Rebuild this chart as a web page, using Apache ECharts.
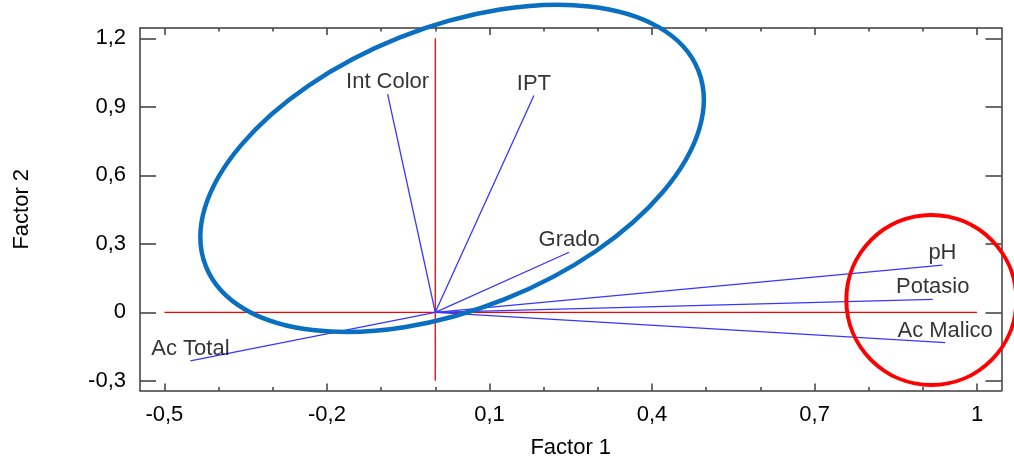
<!DOCTYPE html>
<html>
<head>
<meta charset="utf-8">
<script src="https://cdn.jsdelivr.net/npm/echarts@6/dist/echarts.min.js"></script>
<style>
  html, body { margin: 0; padding: 0; background: #fff; }
  #chart { width: 1014px; height: 459px; }
</style>
</head>
<body>
<div id="chart"></div>
<script>
  // pesos de cada variable en Factor 1 / Factor 2
  const varNames = ["Int Color", "IPT", "Grado", "Ac Total", "pH", "Potasio", "Ac Malico"];
  const factor1 = [-0.088, 0.182, 0.247, -0.452, 0.936, 0.918, 0.941];
  const factor2 = [0.955, 0.949, 0.263, -0.213, 0.207, 0.057, -0.133];

  // ejes y marcas
  const xRange = [-0.545, 1.045];
  const yRange = [-0.3425, 1.245];
  const xTicks = [-0.5, -0.2, 0.1, 0.4, 0.7, 1.0];
  const xMinorTicks = [-0.4, -0.3, -0.1, 0, 0.2, 0.3, 0.5, 0.6, 0.8, 0.9];
  const yTicks = [-0.3, 0, 0.3, 0.6, 0.9, 1.2];

  // lineas rojas de referencia
  const refH = [[-0.5, 0], [1.0, 0]];
  const refV = [[0, -0.3], [0, 1.2]];

  // anotaciones (centro en unidades de los factores)
  const blueEllipseCenter = [0.031, 0.630];
  const redCircleCenter = [0.9155, 0.054];

  const FONT = "Liberation Sans, Arial, sans-serif";
  const fmt = v => String(v).replace(".", ",");

  const myChart = echarts.init(document.getElementById("chart"));

  const frameLine = {show: true, lineStyle: {color: "#3c3c3c", width: 1.5}};
  const tickStyle = {color: "#3c3c3c", width: 1.5};

  const vectorSeries = varNames.map((name, i) => ({
    name: name,
    type: "line",
    symbol: "none",
    lineStyle: {color: "#3636ff", width: 1.3},
    data: [[0, 0], [factor1[i], factor2[i]]],
    z: 3
  }));

  function ellipseItem(rx, ry, rot, color, width) {
    return function (params, api) {
      const p = api.coord([api.value(0), api.value(1)]);
      return {
        type: "ellipse",
        x: p[0],
        y: p[1],
        rotation: rot * Math.PI / 180,
        shape: {cx: 0, cy: 0, rx: rx, ry: ry},
        style: {fill: "none", stroke: color, lineWidth: width}
      };
    };
  }

  myChart.setOption({
    animation: false,
    textStyle: {fontFamily: FONT},
    grid: {left: 140, top: 28, right: 12.5, bottom: 68.5, outerBoundsMode: "none"},
    xAxis: [
      {
        type: "value", position: "bottom", min: xRange[0], max: xRange[1],
        name: "Factor 1", nameLocation: "middle", nameGap: 46,
        nameTextStyle: {fontSize: 22, color: "#000", fontFamily: FONT},
        axisLine: Object.assign({onZero: false}, frameLine),
        axisTick: {show: true, inside: true, length: 7, customValues: xTicks, lineStyle: tickStyle},
        axisLabel: {customValues: xTicks, formatter: fmt, fontSize: 22, color: "#000", margin: 13, fontFamily: FONT},
        splitLine: {show: false}
      },
      {
        type: "value", position: "bottom", min: xRange[0], max: xRange[1],
        axisLine: {show: false, onZero: false},
        axisTick: {show: true, inside: true, length: 3.5, customValues: xMinorTicks, lineStyle: tickStyle},
        axisLabel: {show: false},
        splitLine: {show: false}
      },
      {
        type: "value", position: "top", min: xRange[0], max: xRange[1],
        axisLine: Object.assign({onZero: false}, frameLine),
        axisTick: {show: true, inside: true, length: 7, customValues: xTicks, lineStyle: tickStyle},
        axisLabel: {show: false},
        splitLine: {show: false}
      },
      {
        type: "value", position: "top", min: xRange[0], max: xRange[1],
        axisLine: {show: false, onZero: false},
        axisTick: {show: true, inside: true, length: 3.5, customValues: xMinorTicks, lineStyle: tickStyle},
        axisLabel: {show: false},
        splitLine: {show: false}
      }
    ],
    yAxis: [
      {
        type: "value", position: "left", min: yRange[0], max: yRange[1],
        name: "Factor 2", nameLocation: "middle", nameGap: 107, nameRotate: 90,
        nameTextStyle: {fontSize: 22, color: "#000", fontFamily: FONT},
        axisLine: Object.assign({onZero: false}, frameLine),
        axisTick: {show: true, inside: true, length: 16, customValues: yTicks, lineStyle: tickStyle},
        axisLabel: {customValues: yTicks, formatter: fmt, fontSize: 22, color: "#000", margin: 14, fontFamily: FONT},
        splitLine: {show: false}
      },
      {
        type: "value", position: "right", min: yRange[0], max: yRange[1],
        axisLine: Object.assign({onZero: false}, frameLine),
        axisTick: {show: true, inside: true, length: 16, customValues: yTicks, lineStyle: tickStyle},
        axisLabel: {show: false},
        splitLine: {show: false}
      }
    ],
    series: [
      {
        type: "line", symbol: "none", data: refH,
        lineStyle: {color: "#ff0000", width: 1.3}, z: 2
      },
      {
        type: "line", symbol: "none", data: refV,
        lineStyle: {color: "#ff0000", width: 1.3}, z: 2
      },
      ...vectorSeries,
      {
        type: "scatter",
        symbolSize: 0,
        data: varNames.map((n, i) => ({name: n, value: [factor1[i], factor2[i]]})),
        label: {
          show: true, position: "top", distance: 1,
          formatter: p => p.name,
          fontSize: 22, color: "#000", fontFamily: FONT
        },
        z: 4
      },
      {
        type: "custom", clip: false, z: 5,
        data: [blueEllipseCenter],
        renderItem: ellipseItem(265, 141, 21.7, "#0a6fc0", 4.5)
      },
      {
        type: "custom", clip: false, z: 5,
        data: [redCircleCenter],
        renderItem: ellipseItem(85, 85, 0, "#ff0000", 4)
      }
    ]
  });
</script>
</body>
</html>
